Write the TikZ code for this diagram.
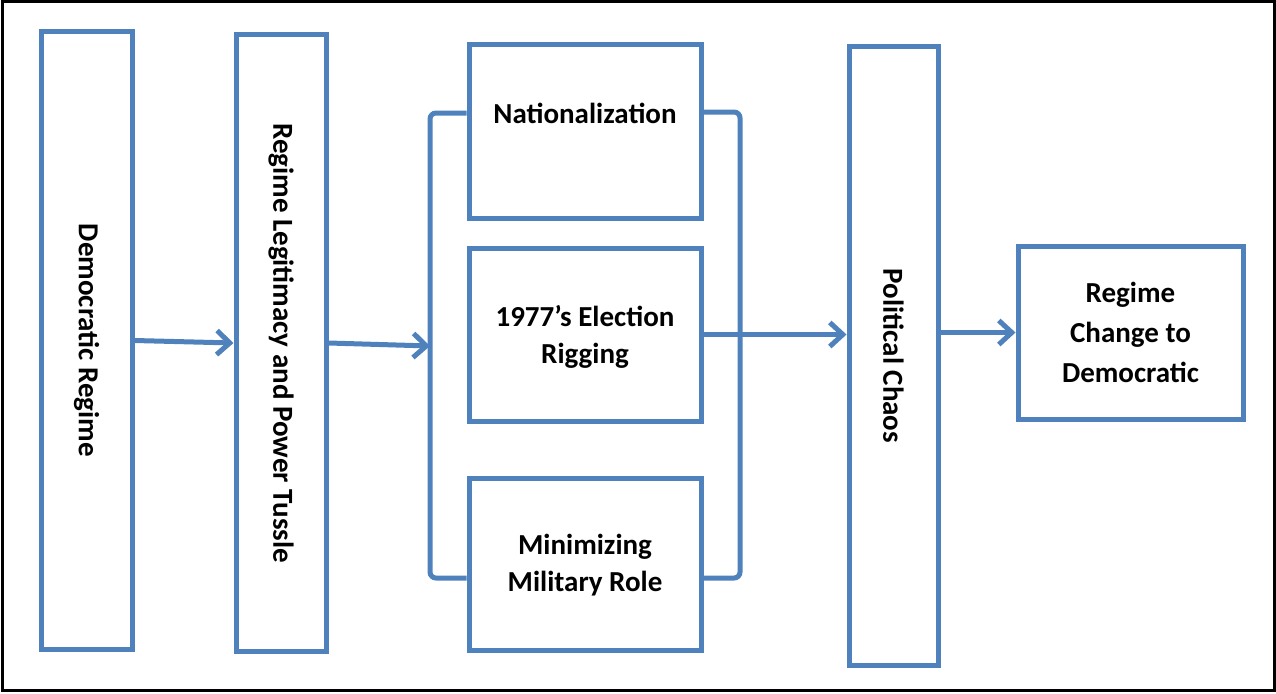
\documentclass[tikz,border=0pt]{standalone}
\usepackage{fontspec}
\setmainfont{Carlito}
\usetikzlibrary{arrows.meta}
\definecolor{frameblue}{HTML}{4F81BD}
\begin{document}
\begin{tikzpicture}[x=1pt,y=-1pt,
  box/.style={draw=frameblue, line width=5pt, inner sep=0pt, fill=white},
  lbl/.style={font=\bfseries\fontsize{29}{37}\selectfont, align=center, text=black, inner sep=0pt},
  flow/.style={draw=frameblue, line width=5pt,
    -{Straight Barb[length=13pt,width=24pt,line width=5pt]}},
  bracket/.style={draw=frameblue, line width=5pt, rounded corners=6pt}]
\useasboundingbox (0,0) rectangle (1276,693);
\draw[line width=3pt] (2,2) rectangle (1274,690);

% stages of the process
\node[box, minimum width=91pt, minimum height=617pt] (dem) at (86.5,340.5) {};
\node[lbl, rotate=-90] (demT) at (dem.center) {Democratic Regime};

\node[box, minimum width=90pt, minimum height=616pt] (leg) at (281,343) {};
\node[lbl, rotate=-90] (legT) at (leg.center) {Regime Legitimacy and Power Tussle};

\node[box, minimum width=232pt, minimum height=173pt] (nat) at (585,131.5) {};
\node[lbl] (natT) at (585,113) {Nationalization};

\node[box, minimum width=232pt, minimum height=173pt] (rig) at (585,334.5) {};
\node[lbl] (rigT) at (585,337) {1977’s Election\\Rigging};

\node[box, minimum width=232pt, minimum height=172pt] (mil) at (585,564) {};
\node[lbl] (milT) at (585,565) {Minimizing\\Military Role};

\node[box, minimum width=89pt, minimum height=618pt] (pc) at (893.5,356) {};
\node[lbl, rotate=-90] (pcT) at (pc.center) {Political Chaos};

\node[box, minimum width=225pt, minimum height=173pt] (reg) at (1130.5,332.5) {};
\node[lbl, font=\bfseries\fontsize{29}{40}\selectfont] (regT) at (reg.center) {Regime\\Change to\\Democratic};

% brackets grouping the three causes
\draw[bracket] (nat.west |- 0,113) -- (430,113) coordinate (brTL)
  -- (430,578) coordinate (brBL) -- (mil.west |- 0,578);
\draw[bracket] (nat.east |- 0,112) -- (740,112) coordinate (brTR)
  -- (740,578) coordinate (brBR) -- (mil.east |- 0,578);
\coordinate (brIn) at (430,346);

% connectors
\draw[flow] (dem.east) -- (leg.west);
\draw[flow] (leg.east) -- (brIn);
\draw[flow] (rig.east) -- (rig.east -| pc.west);
\draw[flow] (pc.east |- reg.west) -- (reg.west);
\end{tikzpicture}
\end{document}
